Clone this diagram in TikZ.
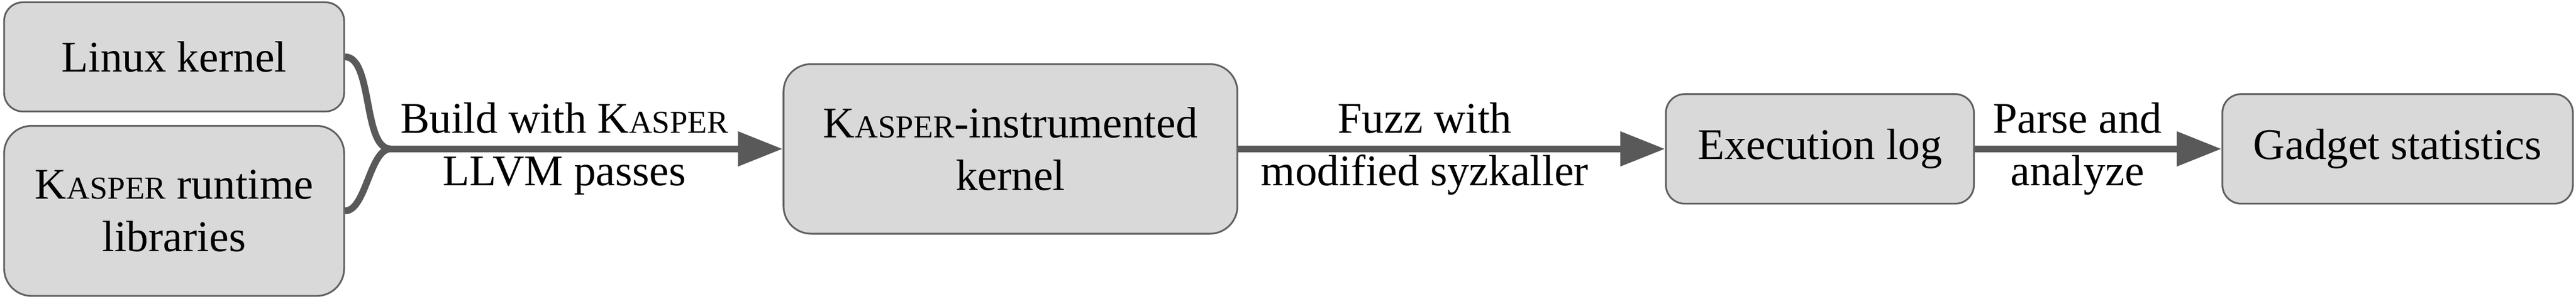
\documentclass[tikz,border=0pt]{standalone}
\usepackage{fontspec}
\setmainfont{Liberation Serif}
\usetikzlibrary{arrows.meta}

\definecolor{boxfill}{HTML}{D9D9D9}
\definecolor{boxline}{HTML}{606060}
\definecolor{flowgray}{HTML}{595959}
\newcommand{\kasper}{K{\fontsize{7.3}{8}\selectfont ASPER}}

\begin{document}
\begin{tikzpicture}[
    stage/.style={draw=boxline, fill=boxfill, line width=0.4pt, rounded corners=0.15cm, align=center, inner sep=0pt},
    feed/.style={draw=flowgray, line width=1.55pt},
    flow/.style={feed, -{Triangle[length=10.2pt, width=7.6pt]}}]
             \useasboundingbox (0, 0) rectangle (20.667, 2.399);

             \node[stage, minimum width=2.728cm, minimum height=0.877cm] (linux) at (1.397, 1.942) {Linux kernel};
             \node[stage, minimum width=2.728cm, minimum height=1.366cm, rounded corners=0.22cm] (kasperlib) at (1.397, 0.705) {\kasper{} runtime\\libraries};

             \node[stage, minimum width=3.641cm, minimum height=1.362cm, rounded corners=0.22cm] (instr) at (8.107, 1.203) {\kasper-instrumented\\kernel};
             \node[stage, minimum width=2.471cm, minimum height=0.880cm] (log) at (14.601, 1.203) {Execution log};
             \node[stage, minimum width=2.812cm, minimum height=0.880cm] (stats) at (19.236, 1.203) {Gadget statistics};

             \coordinate (join) at (3.134, 1.203);
             \draw[feed] (linux.east) to[out=0, in=180, looseness=0.7] (join);
             \draw[feed] (kasperlib.east) to[out=0, in=180, looseness=0.7] (join);
             \draw[flow] (join) -- (instr.west);
             \draw[flow] (instr.east) -- (log.west);
             \draw[flow] (log.east) -- (stats.west);

             \node[align=center] (buildlbl) at (4.529, 1.203) {Build with \kasper\\LLVM passes};
             \node[align=center] (fuzzlbl) at (11.431, 1.203) {Fuzz with\\modified syzkaller};
             \node[align=center] (parselbl) at (16.667, 1.203) {Parse and\\analyze};
\end{tikzpicture}
\end{document}
